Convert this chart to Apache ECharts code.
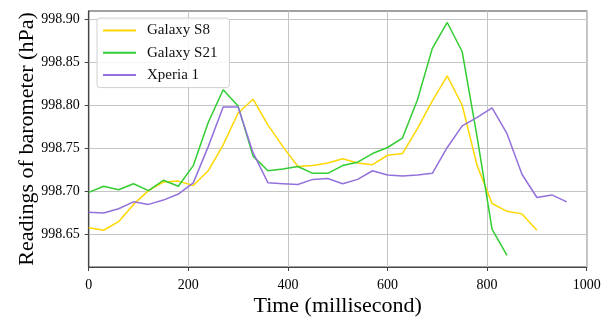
<!DOCTYPE html>
<html>
<head>
<meta charset="utf-8">
<title>barometer</title>
<script src="https://cdn.jsdelivr.net/npm/echarts@6/dist/echarts.min.js"></script>
<style>
  html, body { margin: 0; padding: 0; background: #fff; }
  #chart { width: 609px; height: 322px; }
</style>
</head>
<body>
<div id="chart"></div>
<script>
// sampling step is 30 ms for every phone
var step = 30;
var s8 = [998.658, 998.655, 998.665, 998.685, 998.701, 998.711, 998.712, 998.707, 998.724, 998.754,
  998.791, 998.807, 998.777, 998.752, 998.729, 998.730, 998.733, 998.738, 998.733, 998.731,
  998.742, 998.744, 998.773, 998.805, 998.834, 998.800, 998.730, 998.686, 998.677, 998.674, 998.655];
var s21 = [998.699, 998.706, 998.702, 998.709, 998.701, 998.713, 998.706, 998.730, 998.780, 998.818,
  998.799, 998.741, 998.724, 998.726, 998.729, 998.721, 998.721, 998.730, 998.734, 998.744,
  998.751, 998.762, 998.806, 998.866, 998.896, 998.862, 998.763, 998.656, 998.626];
var xperia = [998.676, 998.675, 998.680, 998.688, 998.685, 998.690, 998.697, 998.710, 998.752, 998.798,
  998.798, 998.745, 998.710, 998.709, 998.708, 998.714, 998.715, 998.709, 998.714, 998.724,
  998.719, 998.718, 998.719, 998.721, 998.751, 998.776, 998.786, 998.797, 998.767, 998.720,
  998.693, 998.696, 998.688];
var yTicks = [998.65, 998.70, 998.75, 998.80, 998.85, 998.90];

function pairs(arr) {
  return arr.map(function (v, i) { return [i * step, v]; });
}

var font = 'Liberation Serif';
var myChart = echarts.init(document.getElementById('chart'));

function mkSeries(name, arr, color) {
  return {
    name: name,
    type: 'line',
    symbol: 'none',
    data: pairs(arr),
    lineStyle: { color: color, width: 1.5 },
    itemStyle: { color: color }
  };
}

var option = {
  animation: false,
  grid: {
    left: 88.7, right: 22.3, top: 11, bottom: 45,
    show: true,
    borderColor: '#444',
    borderWidth: 1.2
  },
  legend: {
    orient: 'vertical',
    left: 97, top: 18,
    itemWidth: 33, itemHeight: 14, itemGap: 7.3,
    padding: [5, 12, 5, 5],
    backgroundColor: 'rgba(255,255,255,0.85)',
    borderColor: '#d0d0d0', borderWidth: 1, borderRadius: 3,
    itemStyle: { opacity: 0 },
    lineStyle: { width: 2 },
    textStyle: { fontFamily: font, fontSize: 15, color: '#111', padding: [0, 0, 0, 6] },
    data: ['Galaxy S8', 'Galaxy S21', 'Xperia 1']
  },
  xAxis: {
    type: 'value',
    min: 0, max: 1000, interval: 200,
    name: 'Time (millisecond)',
    nameLocation: 'middle',
    nameGap: 28,
    nameMoveOverlap: false,
    nameTextStyle: { fontFamily: font, fontSize: 22, color: '#000' },
    axisLine: { show: true, lineStyle: { color: '#444', width: 1.2 } },
    axisTick: { show: true, length: 4, lineStyle: { color: '#444' } },
    axisLabel: {
      fontFamily: font, fontSize: 14, color: '#000', margin: 11,
      formatter: function (v) { return String(v); }
    },
    splitLine: { show: true, lineStyle: { color: '#c4c4c4', width: 1 } }
  },
  yAxis: {
    type: 'value',
    min: 998.6124, max: 998.9093,
    name: 'Readings of barometer (hPa)',
    nameLocation: 'middle',
    nameGap: 50,
    nameMoveOverlap: false,
    nameTextStyle: { fontFamily: font, fontSize: 22, color: '#000' },
    axisLine: { show: true, lineStyle: { color: '#444', width: 1.2 } },
    axisTick: { show: true, length: 4, lineStyle: { color: '#444' }, customValues: yTicks },
    axisLabel: {
      fontFamily: font, fontSize: 14, color: '#000', margin: 9,
      customValues: yTicks,
      formatter: function (v) { return v.toFixed(2); }
    },
    splitLine: { show: true, lineStyle: { color: '#c4c4c4', width: 1 } }
  },
  series: [
    mkSeries('Galaxy S8', s8, '#FFD700'),
    mkSeries('Galaxy S21', s21, '#32CD32'),
    mkSeries('Xperia 1', xperia, '#9370DB')
  ]
};

myChart.setOption(option);
</script>
</body>
</html>
